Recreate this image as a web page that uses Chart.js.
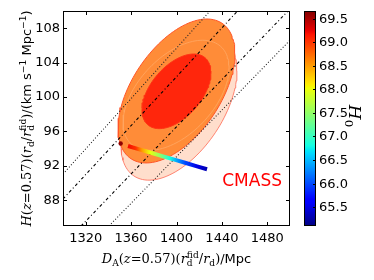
<!DOCTYPE html>
<html>
<head>
<meta charset="utf-8">
<script src="https://cdn.jsdelivr.net/npm/chart.js@4"></script>
<style>
  body { margin: 0; background: #fff; }
  #wrap { width: 374px; height: 280px; }
</style>
</head>
<body>
<div id="wrap"><canvas id="chart"></canvas></div>
<script>
// axis ranges and ticks
const xRange = [1300, 1500];
const yRange = [85, 110];
const xTicks = [1320, 1360, 1400, 1440, 1480];
const yTicks = [88, 92, 96, 100, 104, 108];
const cbRange = [65.1, 69.66];
const cbTicks = [65.5, 66.0, 66.5, 67.0, 67.5, 68.0, 68.5, 69.0, 69.5];

// contour ellipses: centre, extent in D_A and H, correlation (cos of phase)
const ellNames = ['peach95', 'orange95', 'mid68', 'red68'];
const ellCx = [1402.2, 1400.0, 1399.6, 1400.0];
const ellCy = [98.7, 100.7, 100.2, 100.66];
const ellRx = [51.1, 51.5, 46.7, 30.4];
const ellRy = [8.37, 8.37, 6.4, 4.34];
const ellCorr = [0.52, 0.52, 0.5, 0.5];

// constant-D_V guide lines (endpoints)
const guideX = [[1300, 1429.5], [1300, 1453.8], [1315.9, 1498.2], [1340.5, 1500]];
const guideY = [[91.04, 110], [88.14, 110], [85, 110], [85, 106.6]];
const guideKind = ['dot', 'dashdot', 'dashdot', 'dot'];

// model track coloured by H0
const trackDA = [1357.3, 1364.3, 1369.6, 1376.7, 1383.7, 1388.1, 1394.3, 1400.4, 1407.5, 1418.1, 1426.9];
const trackH = [94.3, 94.03, 93.82, 93.55, 93.27, 93.10, 92.86, 92.63, 92.35, 91.94, 91.6];
const trackH0 = [69.2, 69.0, 68.5, 68.0, 67.6, 67.3, 66.8, 66.4, 66.0, 65.5, 65.3];
const dotDA = [1350.8];
const dotH = [94.6];
const dotH0 = [69.6];

function jet(v) {
  const t = Math.max(0, Math.min(1, (v - cbRange[0]) / (cbRange[1] - cbRange[0])));
  const seg = (pts) => {
    for (let i = 1; i < pts.length; i++) {
      if (t <= pts[i][0]) {
        const [a, va] = pts[i - 1], [b, vb] = pts[i];
        return va + (vb - va) * (t - a) / (b - a);
      }
    }
    return pts[pts.length - 1][1];
  };
  const r = seg([[0, 0], [0.35, 0], [0.66, 1], [0.89, 1], [1, 0.5]]);
  const g = seg([[0, 0], [0.125, 0], [0.375, 1], [0.64, 1], [0.91, 0], [1, 0]]);
  const b = seg([[0, 0.5], [0.11, 1], [0.34, 1], [0.65, 0], [1, 0]]);
  return `rgb(${Math.round(r * 255)},${Math.round(g * 255)},${Math.round(b * 255)})`;
}

function ellipsePts(i) {
  const pts = [];
  const d = Math.acos(ellCorr[i]);
  for (let k = 0; k <= 120; k++) {
    const t = k / 120 * 2 * Math.PI;
    pts.push({ x: ellCx[i] + ellRx[i] * Math.cos(t), y: ellCy[i] + ellRy[i] * Math.cos(t - d) });
  }
  return pts;
}

const ellFill = ['rgb(255,222,204)', 'rgb(255,140,56)', null, 'rgb(255,38,12)'];
const ellEdge = ['rgba(255,120,100,0.9)', 'rgb(255,85,40)', 'rgba(255,165,95,0.9)', 'rgb(255,50,20)'];

const datasets = [];
let ord = 20;
ellNames.forEach((n, i) => {
  datasets.push({
    label: n, data: ellipsePts(i), showLine: true, pointRadius: 0,
    borderColor: ellEdge[i], borderWidth: 1,
    backgroundColor: ellFill[i] || 'transparent',
    fill: ellFill[i] ? 'shape' : false, order: ord--
  });
});
guideX.forEach((xs, i) => {
  datasets.push({
    label: 'guide' + i,
    data: xs.map((x, k) => ({ x: x, y: guideY[i][k] })),
    showLine: true, pointRadius: 0, borderWidth: 1.1,
    borderColor: guideKind[i] === 'dot' ? '#222' : '#000',
    borderDash: guideKind[i] === 'dot' ? [1, 2] : [3, 2.5, 1, 2.5],
    fill: false, order: ord--
  });
});
datasets.push({
  label: 'track',
  data: trackDA.map((x, k) => ({ x: x, y: trackH[k] })),
  showLine: true, pointRadius: 0, borderWidth: 4, borderCapStyle: 'butt',
  borderColor: (c) => {
    const ch = c.chart;
    if (!ch.chartArea) return 'red';
    const sx = ch.scales.x;
    const x0 = sx.getPixelForValue(trackDA[0]);
    const x1 = sx.getPixelForValue(trackDA[trackDA.length - 1]);
    const g = ch.ctx.createLinearGradient(x0, 0, x1, 0);
    trackDA.forEach((d, k) => g.addColorStop((sx.getPixelForValue(d) - x0) / (x1 - x0), jet(trackH0[k])));
    return g;
  },
  fill: false, order: ord--
});
datasets.push({
  label: 'dot',
  data: dotDA.map((x, k) => ({ x: x, y: dotH[k] })),
  pointRadius: 2.2, pointBackgroundColor: dotH0.map(jet), pointBorderWidth: 0,
  order: ord--
});

// simple mathtext renderer
function mfont(f, sz) {
  if (f === 'i') return `italic ${sz}px "DejaVu Serif"`;
  if (f === 'r') return `${sz}px "DejaVu Serif"`;
  return `${sz}px "DejaVu Sans"`;
}
function mathWidth(ctx, parts, size) {
  let w = 0;
  parts.forEach(p => {
    ctx.font = mfont(p.f, size);
    w += ctx.measureText(p.t).width;
    const ss = size * 0.7;
    ctx.font = mfont(p.sf || 'r', ss);
    w += Math.max(p.sub ? ctx.measureText(p.sub).width : 0, p.sup ? ctx.measureText(p.sup).width : 0);
  });
  return w;
}
function drawMath(ctx, parts, size, x0) {
  let x = x0;
  ctx.textBaseline = 'alphabetic';
  ctx.textAlign = 'left';
  parts.forEach(p => {
    ctx.font = mfont(p.f, size);
    ctx.fillText(p.t, x, 0);
    x += ctx.measureText(p.t).width;
    const ss = size * 0.7;
    ctx.font = mfont(p.sf || 'r', ss);
    let w = 0;
    if (p.sub) { ctx.fillText(p.sub, x, size * 0.24); w = ctx.measureText(p.sub).width; }
    if (p.sup) { ctx.fillText(p.sup, x, -size * 0.42); w = Math.max(w, ctx.measureText(p.sup).width); }
    x += w;
  });
}

const xTitle = [
  { t: 'D', f: 'i', sub: 'A' }, { t: '(', f: 'r' }, { t: 'z', f: 'i' }, { t: '=0.57)(', f: 'r' },
  { t: 'r', f: 'i', sub: 'd', sup: 'fid' }, { t: '/', f: 'r' }, { t: 'r', f: 'i', sub: 'd' },
  { t: ')', f: 'r' }, { t: '/Mpc', f: 's' }
];
const yTitle = [
  { t: 'H', f: 'i' }, { t: '(', f: 'r' }, { t: 'z', f: 'i' }, { t: '=0.57)(', f: 'r' },
  { t: 'r', f: 'i', sub: 'd' }, { t: '/', f: 'r' }, { t: 'r', f: 'i', sub: 'd', sup: 'fid' },
  { t: ')', f: 'r' }, { t: '/(km s', f: 's', sup: '\u22121', sf: 's' }, { t: ' Mpc', f: 's', sup: '\u22121', sf: 's' },
  { t: ')', f: 's' }
];
const cbTitle = [{ t: 'H', f: 'i', sub: '0' }];

const decor = {
  id: 'decor',
  afterDraw(chart) {
    const ctx = chart.ctx;
    const a = chart.chartArea;
    const sx = chart.scales.x, sy = chart.scales.y, sc = chart.scales.cb;
    ctx.save();
    // frame
    ctx.strokeStyle = '#000';
    ctx.lineWidth = 1;
    ctx.strokeRect(a.left + 0.5, a.top + 0.5, a.right - a.left - 1, a.bottom - a.top - 1);
    // inward ticks on all sides
    ctx.beginPath();
    xTicks.forEach(v => {
      const p = Math.round(sx.getPixelForValue(v)) + 0.5;
      ctx.moveTo(p, a.bottom); ctx.lineTo(p, a.bottom - 4);
      ctx.moveTo(p, a.top); ctx.lineTo(p, a.top + 4);
    });
    yTicks.forEach(v => {
      const p = Math.round(sy.getPixelForValue(v)) + 0.5;
      ctx.moveTo(a.left, p); ctx.lineTo(a.left + 4, p);
      ctx.moveTo(a.right, p); ctx.lineTo(a.right - 4, p);
    });
    ctx.stroke();

    // colour bar
    const cx0 = 304, cw = 12;
    for (let py = Math.floor(sc.top); py < sc.bottom; py++) {
      ctx.fillStyle = jet(sc.getValueForPixel(py + 0.5));
      ctx.fillRect(cx0, py, cw, 1);
    }
    ctx.strokeStyle = '#000';
    ctx.strokeRect(cx0 + 0.5, sc.top + 0.5, cw - 1, sc.bottom - sc.top - 1);
    ctx.beginPath();
    ctx.fillStyle = '#000';
    ctx.font = '13px "DejaVu Sans"';
    ctx.textAlign = 'left';
    ctx.textBaseline = 'middle';
    cbTicks.forEach(v => {
      const p = Math.round(sc.getPixelForValue(v)) + 0.5;
      ctx.moveTo(cx0 + cw, p); ctx.lineTo(cx0 + cw - 3, p);
      ctx.fillText(v.toFixed(1), 319, p);
    });
    ctx.stroke();

    // CMASS tag
    ctx.fillStyle = '#ff0000';
    ctx.font = '17px "DejaVu Sans"';
    ctx.textAlign = 'right';
    ctx.textBaseline = 'alphabetic';
    ctx.fillText('CMASS', a.right - 8, 186);

    // axis titles
    ctx.fillStyle = '#000';
    let w = mathWidth(ctx, xTitle, 13);
    ctx.save();
    ctx.translate((a.left + a.right) / 2, 263);
    drawMath(ctx, xTitle, 13, -w / 2);
    ctx.restore();

    w = mathWidth(ctx, yTitle, 13);
    ctx.save();
    ctx.translate(31, (a.top + a.bottom) / 2);
    ctx.rotate(-Math.PI / 2);
    drawMath(ctx, yTitle, 13, -w / 2);
    ctx.restore();

    w = mathWidth(ctx, cbTitle, 17);
    ctx.save();
    ctx.translate(349, 116);
    ctx.rotate(Math.PI / 2);
    drawMath(ctx, cbTitle, 17, -w / 2);
    ctx.restore();

    ctx.restore();
  }
};

new Chart(document.getElementById('chart'), {
  type: 'scatter',
  data: { datasets: datasets },
  options: {
    responsive: true,
    maintainAspectRatio: false,
    animation: false,
    events: [],
    layout: { padding: { left: 0, right: 84, top: 11, bottom: 0 } },
    plugins: { legend: { display: false }, tooltip: { enabled: false } },
    scales: {
      x: {
        type: 'linear', min: xRange[0], max: xRange[1],
        grid: { display: false, drawTicks: false }, border: { display: false },
        ticks: { color: '#000', font: { family: 'DejaVu Sans', size: 13 }, padding: 5, maxRotation: 0, autoSkip: false,
                 callback: v => String(v) },
        afterBuildTicks: s => { s.ticks = xTicks.map(v => ({ value: v })); },
        afterFit: s => { s.height = 54; }
      },
      y: {
        type: 'linear', min: yRange[0], max: yRange[1],
        grid: { display: false, drawTicks: false }, border: { display: false },
        ticks: { color: '#000', font: { family: 'DejaVu Sans', size: 13 }, padding: 3, autoSkip: false,
                 callback: v => String(v) },
        afterBuildTicks: s => { s.ticks = yTicks.map(v => ({ value: v })); },
        afterFit: s => { s.width = 63; }
      },
      cb: { type: 'linear', display: false, position: 'right', min: cbRange[0], max: cbRange[1] }
    }
  },
  plugins: [decor]
});
</script>
</body>
</html>
